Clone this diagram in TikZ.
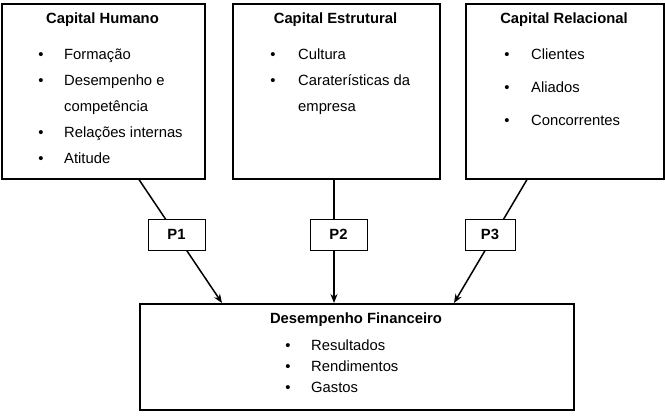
\documentclass[tikz,border=0pt]{standalone}
\usepackage{fontspec}
\setmainfont{Liberation Sans}
\usetikzlibrary{arrows.meta,calc}

\begin{document}
\begin{tikzpicture}[x=1pt,y=-1pt,
        bigbox/.style={draw,line width=1.6pt,anchor=north west,inner sep=0pt},
        pbox/.style={draw,line width=0.7pt,fill=white,minimum height=31pt,inner sep=0pt,font=\fontsize{14.8}{17}\selectfont\bfseries},
        title/.style={anchor=base,inner sep=0pt,font=\fontsize{14.8}{17}\selectfont\bfseries},
        item/.style={anchor=base west,inner sep=0pt,font=\fontsize{14.8}{17}\selectfont},
        dot/.style={anchor=base,inner sep=0pt,font=\fontsize{14.8}{17}\selectfont},
        link/.style={line width=1.5pt,-{Stealth[length=9pt,width=7pt]}}]
        \useasboundingbox (0,0) rectangle (665,418);

        % the four boxes
        \node[bigbox,minimum width=203pt,minimum height=175pt] (hum) at (1,3) {};
        \node[bigbox,minimum width=207pt,minimum height=175pt] (est) at (232,3) {};
        \node[bigbox,minimum width=198pt,minimum height=175pt] (rel) at (465,3) {};
        \node[bigbox,minimum width=434pt,minimum height=106pt] (fin) at (139,303) {};

        % Capital Humano
        \node[title] (humt) at (102.5,23) {Capital Humano};
        \node[dot] (hb1) at (41,59) {•};
        \node[item] (hi1) at (64,59) {Formação};
        \node[dot] (hb2) at (41,85) {•};
        \node[item] (hi2) at (64,85) {Desempenho e};
        \node[item] (hi3) at (64,111) {competência};
        \node[dot] (hb4) at (41,137) {•};
        \node[item] (hi4) at (64,137) {Relações internas};
        \node[dot] (hb5) at (41,163) {•};
        \node[item] (hi5) at (64,163) {Atitude};

        % Capital Estrutural
        \node[title] (estt) at (335.5,23) {Capital Estrutural};
        \node[dot] (eb1) at (273,59) {•};
        \node[item] (ei1) at (298,59) {Cultura};
        \node[dot] (eb2) at (273,85) {•};
        \node[item] (ei2) at (298,85) {Caraterísticas da};
        \node[item] (ei3) at (298,111) {empresa};

        % Capital Relacional
        \node[title] (relt) at (564,23) {Capital Relacional};
        \node[dot] (rb1) at (507,59) {•};
        \node[item] (ri1) at (531,59) {Clientes};
        \node[dot] (rb2) at (507,92) {•};
        \node[item] (ri2) at (531,92) {Aliados};
        \node[dot] (rb3) at (507,125) {•};
        \node[item] (ri3) at (531,125) {Concorrentes};

        % Desempenho Financeiro
        \node[title] (fint) at (356,323) {Desempenho Financeiro};
        \node[dot] (fb1) at (288,350) {•};
        \node[item] (fi1) at (311,350) {Resultados};
        \node[dot] (fb2) at (288,371) {•};
        \node[item] (fi2) at (311,371) {Rendimentos};
        \node[dot] (fb3) at (288,392) {•};
        \node[item] (fi3) at (311,392) {Gastos};

        % connectors
        \coordinate (h1) at ($(hum.south west)+(138,0)$);
        \coordinate (f1) at ($(fin.north west)+(83,0)$);
        \coordinate (h2) at ($(est.south west)+(102,0)$);
        \coordinate (f2) at (h2 |- fin.north);
        \coordinate (h3) at ($(rel.south west)+(62,0)$);
        \coordinate (f3) at ($(fin.north west)+(315,0)$);
        \draw[link] (h1) -- (f1);
        \draw[link] (h2) -- (f2);
        \draw[link] (h3) -- (f3);

        \node[pbox,minimum width=57pt] (p1) at (176.5,234.5) {P1};
        \node[pbox,minimum width=57pt] (p2) at (338.5,234.5) {P2};
        \node[pbox,minimum width=50pt] (p3) at (490,234.5) {P3};
    \end{tikzpicture}
\end{document}
